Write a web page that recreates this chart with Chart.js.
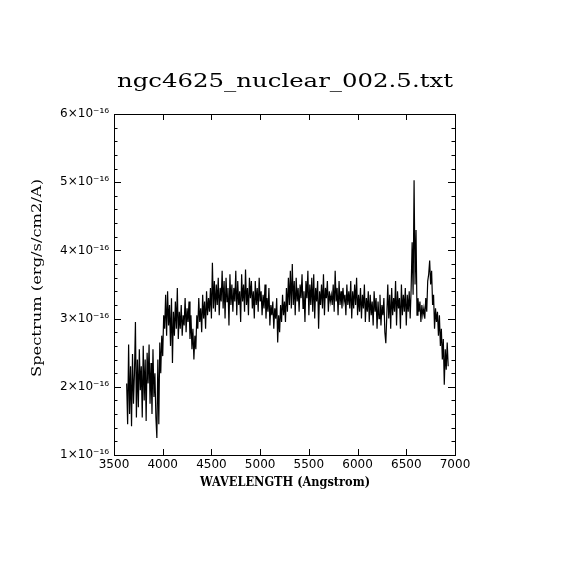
<!DOCTYPE html>
<html>
<head>
<meta charset="utf-8">
<script src="https://cdn.jsdelivr.net/npm/chart.js@4/dist/chart.umd.min.js"></script>
<style>
html,body{margin:0;padding:0;background:#fff;}
canvas{display:block;}
</style>
</head>
<body>
<canvas id="c" width="570" height="570"></canvas>
<script>
// Spectrum grid: first wavelength and step (Angstrom)
const WAVE_START = 3630;
const WAVE_STEP = 10;
// Flux in units of 1e-16 erg/s/cm2/A
const flux = [
  2.05,1.45,2.62,1.60,2.30,1.42,2.48,1.75,2.20,2.95,
  1.55,2.40,1.70,2.55,1.95,2.30,1.55,2.60,1.80,2.40,
  1.50,2.50,2.05,2.62,1.75,2.35,1.60,2.55,1.85,2.20,
  1.55,1.25,2.40,1.45,2.65,2.20,2.75,2.45,3.05,2.85,
  3.35,2.75,3.40,2.90,3.20,2.60,3.30,2.35,3.10,2.75,
  3.25,2.85,3.45,2.70,3.10,2.85,3.20,2.75,3.05,2.90,
  3.30,2.80,3.15,2.95,3.25,2.70,3.05,2.55,2.85,2.40,
  2.75,2.55,3.05,2.85,3.30,2.95,3.15,2.80,3.35,3.00,
  3.25,2.85,3.40,3.05,3.30,3.10,3.45,3.00,3.82,3.15,
  3.55,3.10,3.50,3.20,3.60,3.05,3.45,3.25,3.70,3.15,
  3.55,3.00,3.60,3.25,3.45,2.90,3.65,3.20,3.50,3.10,
  3.45,3.25,3.70,3.05,3.55,3.20,3.40,2.95,3.65,3.25,
  3.50,3.10,3.72,3.20,3.45,3.05,3.60,3.30,3.55,3.15,
  3.40,3.00,3.55,3.20,3.45,3.10,3.60,3.25,3.40,3.05,
  3.35,3.15,3.50,3.00,3.30,3.10,3.45,2.90,3.20,3.05,
  3.25,2.85,3.15,3.00,3.30,2.65,3.05,2.80,3.20,2.95,
  3.35,3.05,3.25,2.95,3.45,3.10,3.60,3.20,3.70,3.15,
  3.80,3.20,3.55,3.05,3.60,3.25,3.45,3.10,3.50,3.30,
  3.65,3.15,3.40,2.95,3.55,3.30,3.70,3.05,3.50,3.20,
  3.60,3.10,3.65,3.00,3.45,3.25,3.55,2.85,3.40,3.20,
  3.50,3.15,3.65,3.05,3.45,3.30,3.55,3.10,3.40,3.25,
  3.35,3.20,3.50,3.10,3.70,3.25,3.45,3.05,3.55,3.20,
  3.40,3.15,3.45,3.25,3.35,3.05,3.50,3.20,3.40,3.15,
  3.55,3.00,3.40,3.15,3.50,3.20,3.60,3.05,3.35,3.10,
  3.45,3.00,3.35,3.15,3.50,2.95,3.30,3.10,3.40,2.95,
  3.35,3.05,3.25,2.90,3.40,3.10,3.30,2.85,3.25,3.00,
  3.35,2.90,3.20,3.05,3.30,2.80,2.64,3.05,3.50,3.00,
  3.35,2.85,3.45,3.05,3.30,3.10,3.55,2.90,3.40,3.15,
  3.30,2.85,3.50,3.05,3.35,3.10,3.45,2.90,3.35,3.10,
  3.40,3.00,3.45,4.12,3.35,5.03,3.50,4.30,3.05,3.30,
  3.10,3.25,2.95,3.20,3.05,3.15,3.00,3.30,3.10,3.55,
  3.65,3.85,3.50,3.70,3.20,3.35,2.85,3.15,2.95,3.10,
  2.75,3.05,2.60,2.85,2.40,2.70,2.03,2.55,2.25,2.65,2.30
];
const xTickValues = [3500,4000,4500,5000,5500,6000,6500,7000];
const yTickValues = [1,2,3,4,5,6];
const yExponent = "⁻¹⁶";
const titleText = "ngc4625_nuclear_002.5.txt";
const xLabel = "WAVELENGTH (Angstrom)";
const yLabel = "Spectrum (erg/s/cm2/A)";

const points = flux.map((f, i) => ({x: WAVE_START + i * WAVE_STEP, y: f}));

function fitText(ctx, text, cx, cy, targetW, font, rot) {
  ctx.save();
  ctx.font = font;
  const w = ctx.measureText(text).width;
  ctx.translate(cx, cy);
  if (rot) ctx.rotate(rot);
  ctx.scale(targetW / w, 1);
  ctx.textAlign = 'center';
  ctx.textBaseline = 'middle';
  ctx.fillStyle = '#000';
  ctx.fillText(text, 0, 0);
  ctx.restore();
}

const decor = {
  id: 'decor',
  afterDraw(chart) {
    const ctx = chart.ctx;
    const a = chart.chartArea;
    const xs = chart.scales.x, ys = chart.scales.y;
    ctx.save();
    ctx.strokeStyle = '#000';
    ctx.lineWidth = 1;
    ctx.strokeRect(Math.round(a.left) + 0.5, Math.round(a.top) + 0.5,
                   Math.round(a.right - a.left), Math.round(a.bottom - a.top));
    ctx.beginPath();
    xTickValues.forEach(v => {
      const px = Math.round(xs.getPixelForValue(v)) + 0.5;
      ctx.moveTo(px, a.bottom); ctx.lineTo(px, a.bottom - 6);
      ctx.moveTo(px, a.top); ctx.lineTo(px, a.top + 6);
    });
    for (let k = 0; k <= 25; k++) {
      const v = 1 + k * 0.2;
      const len = (k % 5 === 0) ? 7 : 3.5;
      const py = Math.round(ys.getPixelForValue(v)) + 0.5;
      ctx.moveTo(a.left, py); ctx.lineTo(a.left + len, py);
      ctx.moveTo(a.right, py); ctx.lineTo(a.right - len, py);
    }
    ctx.stroke();
    ctx.restore();
    fitText(ctx, titleText, 285, 82, 336, '18px "DejaVu Serif"', 0);
    fitText(ctx, xLabel, 285, 483, 170, 'bold 12px "DejaVu Serif"', 0);
    fitText(ctx, yLabel, 38, 278, 198, '12px "DejaVu Serif"', -Math.PI / 2);
  }
};

new Chart(document.getElementById('c'), {
  type: 'line',
  data: {
    datasets: [{
      data: points,
      borderColor: '#000',
      borderWidth: 1.2,
      pointRadius: 0,
      tension: 0,
      fill: false
    }]
  },
  options: {
    responsive: false,
    animation: false,
    devicePixelRatio: 1,
    layout: {padding: {top: 114, right: 115, left: 0, bottom: 0}},
    plugins: {legend: {display: false}, tooltip: {enabled: false}, title: {display: false}},
    scales: {
      x: {
        type: 'linear', min: 3500, max: 7000,
        afterFit(s) { s.height = 115; },
        afterBuildTicks(s) { s.ticks = xTickValues.map(v => ({value: v})); },
        grid: {display: false, drawTicks: false},
        border: {display: false},
        ticks: {color: '#000', font: {family: 'DejaVu Sans', size: 12}, padding: 3, maxRotation: 0,
                callback: v => String(v)}
      },
      y: {
        type: 'linear', min: 1, max: 6,
        afterFit(s) { s.width = 114; },
        afterBuildTicks(s) { s.ticks = yTickValues.map(v => ({value: v})); },
        grid: {display: false, drawTicks: false},
        border: {display: false},
        ticks: {color: '#000', font: {family: 'DejaVu Sans', size: 12}, padding: 5,
                callback: v => v + '×10' + yExponent}
      }
    }
  },
  plugins: [decor]
});
</script>
</body>
</html>
